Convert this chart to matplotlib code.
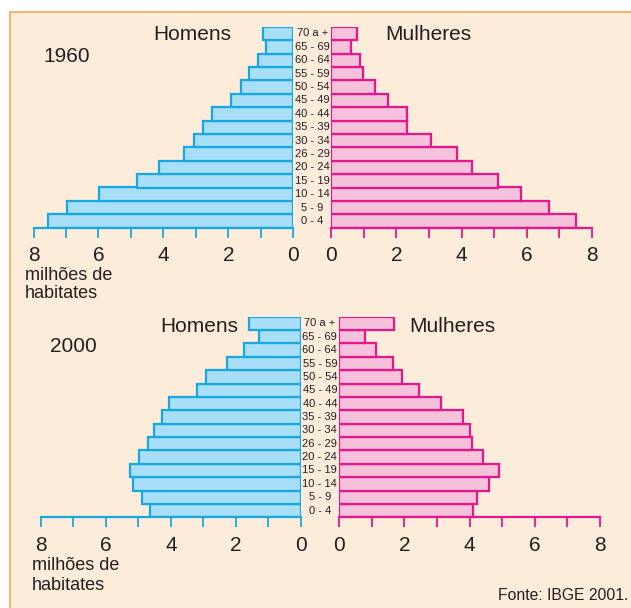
import matplotlib
matplotlib.use("Agg")
import matplotlib.pyplot as plt
from matplotlib.patches import Rectangle
from matplotlib.ticker import MultipleLocator
import matplotlib.transforms as mtransforms

plt.rcParams['font.family'] = ['Liberation Sans', 'DejaVu Sans']

ages = ["0 - 4", "5 - 9", "10 - 14", "15 - 19", "20 - 24", "26 - 29", "30 - 34",
        "35 - 39", "40 - 44", "45 - 49", "50 - 54", "55 - 59", "60 - 64",
        "65 - 69", "70 a +"]

# milhões de habitantes
homens_1960 = [7.55, 6.97, 5.97, 4.81, 4.14, 3.38, 3.06, 2.77, 2.49, 1.92,
               1.61, 1.36, 1.10, 0.84, 0.94]
mulheres_1960 = [7.50, 6.68, 5.83, 5.13, 4.31, 3.85, 3.07, 2.32, 2.32, 1.73,
                 1.35, 0.96, 0.88, 0.60, 0.78]
homens_2000 = [4.64, 4.90, 5.18, 5.27, 4.99, 4.70, 4.52, 4.27, 4.05, 3.19,
               2.92, 2.27, 1.74, 1.28, 1.60]
mulheres_2000 = [4.10, 4.24, 4.59, 4.90, 4.40, 4.08, 4.01, 3.79, 3.13, 2.45,
                 1.92, 1.65, 1.13, 0.81, 1.68]

W, H = 631, 608
bg = '#FDECD9'
blue_fill, blue_edge = '#A8DEF8', '#18A8E0'
pink_fill, pink_edge = '#F6C1DA', '#E8168C'
txt = '#231F20'

fig = plt.figure(figsize=(W / 100, H / 100), dpi=100)
fig.patch.set_facecolor('white')
fig.add_artist(Rectangle((9.5 / W, -0.05), 1.0, (H - 11.5) / H + 0.05,
                         transform=fig.transFigure, facecolor=bg,
                         edgecolor='#F5A55A', linewidth=1.2, zorder=-10))


def px_axes(x0, x1, y_top, y_bot):
    return fig.add_axes([x0 / W, (H - y_bot) / H, (x1 - x0) / W, (y_bot - y_top) / H])


def pyramid_side(ax, values, fill, edge, invert):
    y = list(range(len(values)))
    ax.barh(y, values, height=1.0, color=fill, edgecolor=edge, linewidth=1.6)
    ax.set_ylim(-0.5, len(values) - 0.5)
    ax.set_xlim((8, 0) if invert else (0, 8))
    ax.set_facecolor('none')
    for s in ['top', 'left', 'right']:
        ax.spines[s].set_visible(False)
    ax.spines['bottom'].set_color(edge)
    ax.spines['bottom'].set_linewidth(1.6)
    ax.set_yticks([])
    ax.xaxis.set_major_locator(MultipleLocator(2))
    ax.xaxis.set_minor_locator(MultipleLocator(1))
    ax.tick_params(axis='x', which='both', direction='out', length=7.5,
                   width=1.3, color=edge)
    ax.tick_params(axis='x', which='major', labelsize=15, labelcolor=txt, pad=6)
    ax.set_xticks(range(0, 9, 2))
    ax.set_xticklabels([str(v) for v in range(0, 9, 2)])


panels = [
    # ano, homens, mulheres, faixa x homens, faixa x mulheres, topo, base (px)
    ("1960", homens_1960, mulheres_1960, (33.5, 293.3), (331.3, 592.0), 26.7, 227.7),
    ("2000", homens_2000, mulheres_2000, (41.0, 300.7), (339.0, 600.0), 316.7, 517.3),
]

for i, (year, men, women, mx, wx, top, bot) in enumerate(panels):
    axm = px_axes(mx[0], mx[1], top, bot)
    axw = px_axes(wx[0], wx[1], top, bot)
    pyramid_side(axm, men, blue_fill, blue_edge, True)
    pyramid_side(axw, women, pink_fill, pink_edge, False)

    # faixas etárias no meio
    trans = mtransforms.blended_transform_factory(fig.transFigure, axm.transData)
    xc = (mx[1] + wx[0]) / 2 / W
    for j, lab in enumerate(ages):
        fig.text(xc, j, lab, transform=trans, ha='center', va='center',
                 fontsize=8, color=txt)

    if i == 0:
        fig.text(192 / W, 1 - 35 / H, "Homens", ha='center', va='center', fontsize=15, color=txt)
        fig.text(428 / W, 1 - 35 / H, "Mulheres", ha='center', va='center', fontsize=15, color=txt)
        fig.text(67 / W, 1 - 56 / H, year, ha='center', va='center', fontsize=15, color=txt)
        fig.text(25 / W, 1 - 275 / H, "milhões de", ha='left', va='center', fontsize=13, color=txt)
        fig.text(25 / W, 1 - 294 / H, "habitates", ha='left', va='center', fontsize=13, color=txt)
    else:
        fig.text(199 / W, 1 - 326 / H, "Homens", ha='center', va='center', fontsize=15, color=txt)
        fig.text(452 / W, 1 - 326 / H, "Mulheres", ha='center', va='center', fontsize=15, color=txt)
        fig.text(73 / W, 1 - 346 / H, year, ha='center', va='center', fontsize=15, color=txt)
        fig.text(32 / W, 1 - 565 / H, "milhões de", ha='left', va='center', fontsize=13, color=txt)
        fig.text(32 / W, 1 - 585 / H, "habitates", ha='left', va='center', fontsize=13, color=txt)

fig.text(628 / W, 1 - 596 / H, "Fonte: IBGE 2001.", ha='right', va='center', fontsize=11.3, color=txt)

fig.savefig("out.png", dpi=100, facecolor=fig.get_facecolor())
